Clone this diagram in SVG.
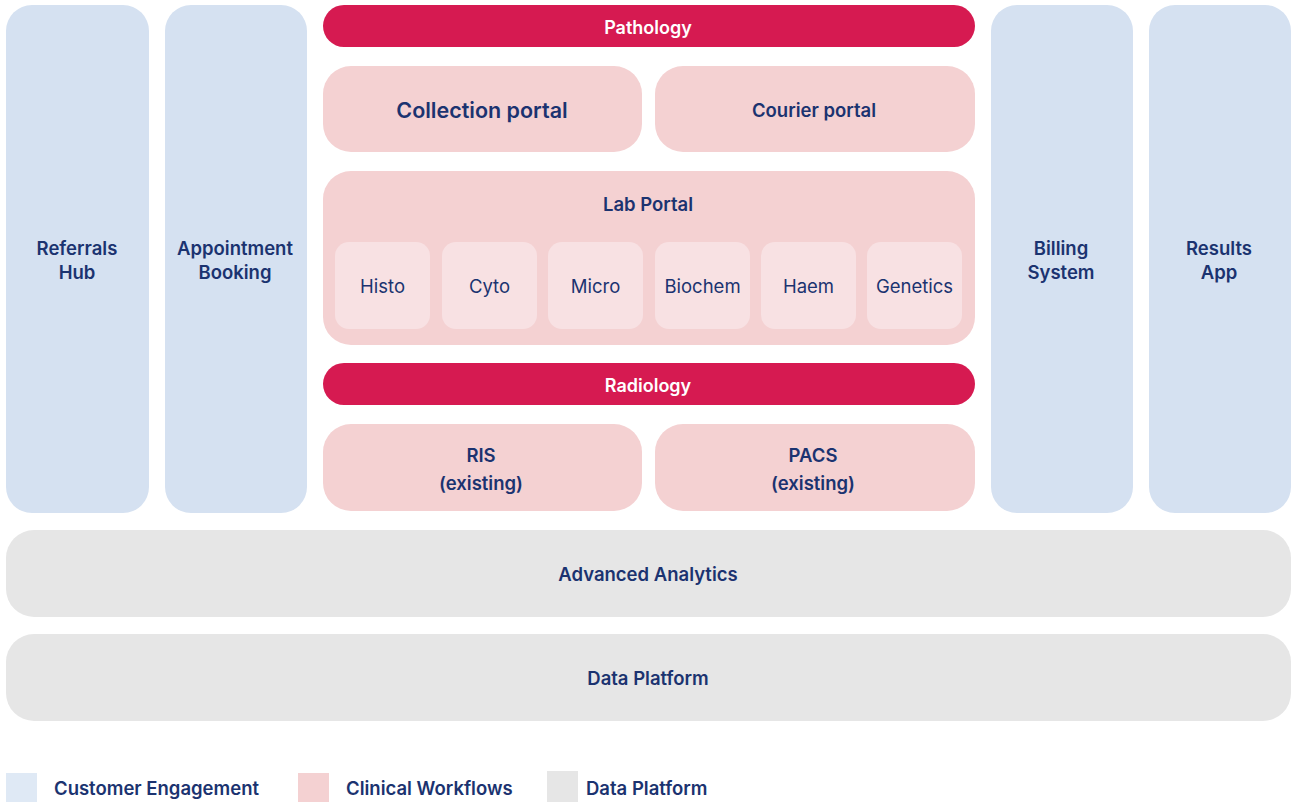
<svg xmlns="http://www.w3.org/2000/svg" width="1292" height="802" viewBox="0 0 1292 802">
  <style>
    text { font-family: "Inter", "Liberation Sans", sans-serif; fill: #1b3370; text-anchor: middle; dominant-baseline: central; }
    .lbl { font-size: 18.5px; font-weight: 600; }
    .big { font-size: 21.5px; font-weight: 600; }
    .sub { font-size: 18.5px; font-weight: 400; }
    .band { font-size: 18px; font-weight: 600; fill: #ffffff; }
    .leg { font-size: 18.5px; font-weight: 600; dominant-baseline: auto; text-anchor: start; }
    .engage { fill: #d5e1f1; }
    .clinical { fill: #f4d1d2; }
    .inner { fill: #f8e1e3; }
    .accent { fill: #d61a51; }
    .data { fill: #e6e6e6; }
  </style>

  <!-- Customer engagement columns -->
  <g id="referrals-hub">
    <rect class="engage" x="6" y="5" width="143" height="508" rx="26"/>
    <text class="lbl" x="77" y="248">Referrals</text>
    <text class="lbl" x="77" y="272">Hub</text>
  </g>
  <g id="appointment-booking">
    <rect class="engage" x="165" y="5" width="142" height="508" rx="26"/>
    <text class="lbl" x="235" y="248">Appointment</text>
    <text class="lbl" x="235" y="272">Booking</text>
  </g>
  <g id="billing-system">
    <rect class="engage" x="991" y="5" width="142" height="508" rx="26"/>
    <text class="lbl" x="1061" y="248">Billing</text>
    <text class="lbl" x="1061" y="272">System</text>
  </g>
  <g id="results-app">
    <rect class="engage" x="1149" y="5" width="142" height="508" rx="26"/>
    <text class="lbl" x="1219" y="248">Results</text>
    <text class="lbl" x="1219" y="272">App</text>
  </g>

  <!-- Pathology -->
  <g id="pathology">
    <rect class="accent" x="323" y="5" width="652" height="42" rx="21"/>
    <text class="band" x="648" y="27">Pathology</text>
  </g>
  <g id="collection-portal">
    <rect class="clinical" x="323" y="66" width="319" height="86" rx="28"/>
    <text class="big" x="482" y="110">Collection portal</text>
  </g>
  <g id="courier-portal">
    <rect class="clinical" x="655" y="66" width="320" height="86" rx="28"/>
    <text class="lbl" x="814" y="110">Courier portal</text>
  </g>
  <g id="lab-portal">
    <rect class="clinical" x="323" y="171" width="652" height="174" rx="28"/>
    <text class="lbl" x="648" y="204">Lab Portal</text>
    <g id="histo">
      <rect class="inner" x="335" y="242" width="95" height="87" rx="14"/>
      <text class="sub" x="382.5" y="286">Histo</text>
    </g>
    <g id="cyto">
      <rect class="inner" x="442" y="242" width="95" height="87" rx="14"/>
      <text class="sub" x="489.5" y="286">Cyto</text>
    </g>
    <g id="micro">
      <rect class="inner" x="548" y="242" width="95" height="87" rx="14"/>
      <text class="sub" x="595.5" y="286">Micro</text>
    </g>
    <g id="biochem">
      <rect class="inner" x="655" y="242" width="95" height="87" rx="14"/>
      <text class="sub" x="702.5" y="286">Biochem</text>
    </g>
    <g id="haem">
      <rect class="inner" x="761" y="242" width="95" height="87" rx="14"/>
      <text class="sub" x="808.5" y="286">Haem</text>
    </g>
    <g id="genetics">
      <rect class="inner" x="867" y="242" width="95" height="87" rx="14"/>
      <text class="sub" x="914.5" y="286">Genetics</text>
    </g>
  </g>

  <!-- Radiology -->
  <g id="radiology">
    <rect class="accent" x="323" y="363" width="652" height="42" rx="21"/>
    <text class="band" x="648" y="385">Radiology</text>
  </g>
  <g id="ris">
    <rect class="clinical" x="323" y="424" width="319" height="87" rx="28"/>
    <text class="lbl" x="481" y="455">RIS</text>
    <text class="lbl" x="481" y="483">(existing)</text>
  </g>
  <g id="pacs">
    <rect class="clinical" x="655" y="424" width="320" height="87" rx="28"/>
    <text class="lbl" x="813" y="455">PACS</text>
    <text class="lbl" x="813" y="483">(existing)</text>
  </g>

  <!-- Data layers -->
  <g id="advanced-analytics">
    <rect class="data" x="6" y="530" width="1285" height="87" rx="28"/>
    <text class="lbl" x="648" y="574">Advanced Analytics</text>
  </g>
  <g id="data-platform">
    <rect class="data" x="6" y="634" width="1285" height="87" rx="28"/>
    <text class="lbl" x="648" y="678">Data Platform</text>
  </g>

  <g id="connectors"></g>

  <!-- Legend -->
  <g id="legend">
    <rect x="6" y="773" width="31" height="29" fill="#dfe9f5"/>
    <text class="leg" x="54" y="795">Customer Engagement</text>
    <rect x="298" y="773" width="31" height="29" fill="#f4d1d2"/>
    <text class="leg" x="346" y="795">Clinical Workflows</text>
    <rect x="547" y="771" width="31" height="31" fill="#e6e6e6"/>
    <text class="leg" x="586" y="795">Data Platform</text>
  </g>
</svg>
